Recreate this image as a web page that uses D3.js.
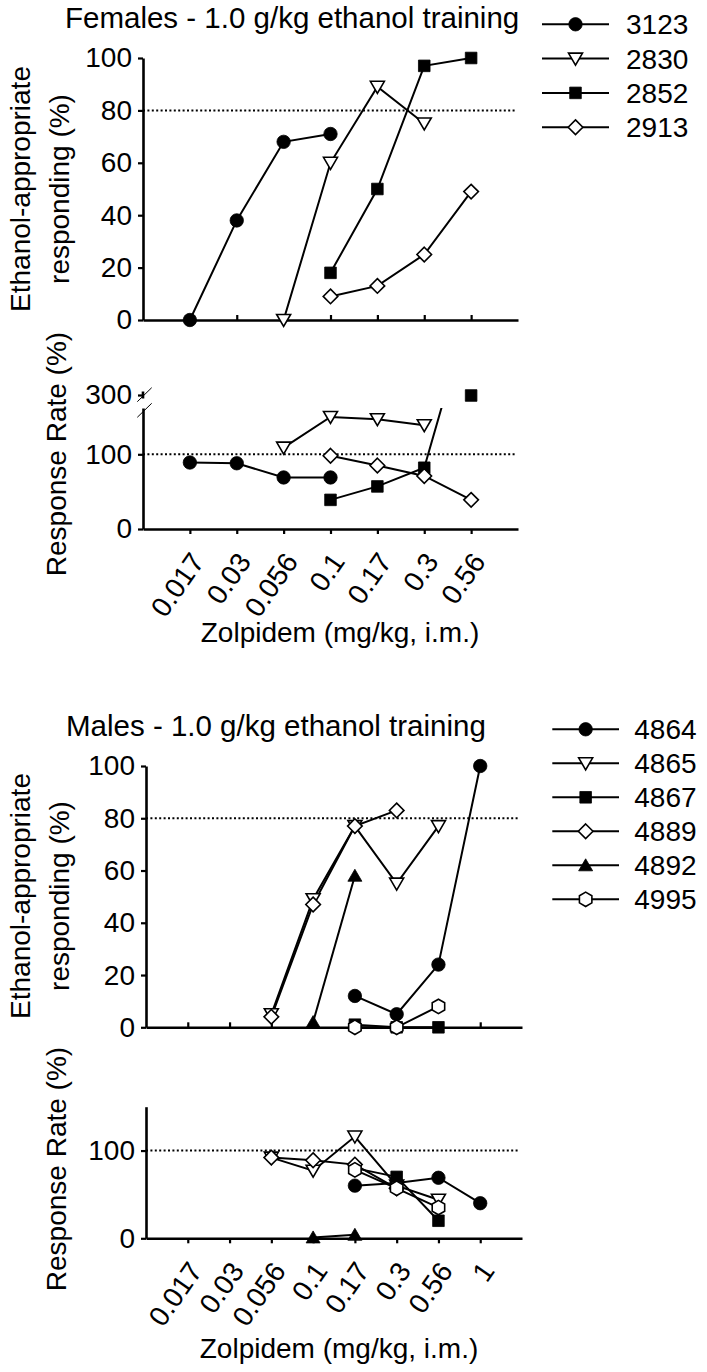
<!DOCTYPE html>
<html><head><meta charset="utf-8">
<script src="https://cdn.jsdelivr.net/npm/d3@7"></script>
<style>
body{margin:0;background:#fff}
svg{display:block}
text{font-family:"Liberation Sans",Arial,Helvetica,sans-serif;fill:#000}
</style>
</head><body>
<svg id="c" width="707" height="1372"></svg>
<script>
// ---------------- DATA ----------------
const femaleDoses = ["0.017","0.03","0.056","0.1","0.17","0.3","0.56"];
const maleDoses   = ["0.017","0.03","0.056","0.1","0.17","0.3","0.56","1"];

const femaleIds    = ["3123","2830","2852","2913"];
const femaleShapes = ["circle","triDown","square","diamond"];
const maleIds      = ["4864","4865","4867","4889","4892","4995"];
const maleShapes   = ["circle","triDown","square","diamond","triUp","hexagon"];

// Females: ethanol-appropriate responding (%)
const fEth3123 = [0, 38, 68, 71, null, null, null];
const fEth2830 = [null, null, 0, 60, 89, 75, null];
const fEth2852 = [null, null, null, 18, 50, 97, 100];
const fEth2913 = [null, null, null, 9, 13, 25, 49];
// Females: response rate (% of control)
const fRate3123 = [89, 88, 69, 69, null, null, null];
const fRate2830 = [null, null, 109, 150, 147, 139, null];
const fRate2852 = [null, null, null, 39, 57, 82, 300];
const fRate2913 = [null, null, null, 98, 85, 71, 39];

// Males: ethanol-appropriate responding (%)
const mEth4864 = [null, null, null, null, 12, 5, 24, 100];
const mEth4865 = [null, null, 5, 49, 77, 55, 77, null];
const mEth4867 = [null, null, null, null, 1, 0, 0, null];
const mEth4889 = [null, null, 4, 47, 77, 83, null, null];
const mEth4892 = [null, null, null, 2, 58, null, null, null];
const mEth4995 = [null, null, null, null, 0, 0, 8, null];
// Males: response rate (% of control)
const mRate4864 = [null, null, null, null, 60, 63, 69, 40];
const mRate4865 = [null, null, 92, 77, 116, 60, 44, null];
const mRate4867 = [null, null, null, null, 80, 70, 20, null];
const mRate4889 = [null, null, 92, 89, 84, 57, null, null];
const mRate4892 = [null, null, null, 1, 4, null, null, null];
const mRate4995 = [null, null, null, null, 78, 57, 35, null];

const ethTicks   = [0, 20, 40, 60, 80, 100];
const fRateTicks = [0, 100];
const fRateBreakTick = 300;
const mRateTicks = [0, 100];
const ethCriterion = 80;
const rateControl  = 100;

const femaleTitle = "Females - 1.0 g/kg ethanol training";
const maleTitle   = "Males - 1.0 g/kg ethanol training";
const ethLabel    = ["Ethanol-appropriate", "responding (%)"];
const rateLabel   = "Response Rate (%)";
const xLabel      = "Zolpidem (mg/kg, i.m.)";

// ---------------- DRAWING ----------------
const svg = d3.select("#c");
const FS = 28;
const FONT = '"Liberation Sans",Arial,Helvetica,sans-serif';

function shapePath(type){
  switch(type){
    case "circle":  return d3.symbol(d3.symbolCircle, Math.PI*6.7*6.7)();
    case "square":  return "M-5.8,-5.8H5.8V5.8H-5.8Z";
    case "triDown": return "M-7,-5.5L7,-5.5L0,6.5Z";
    case "triUp":   return "M-7,5.5L7,5.5L0,-6.5Z";
    case "diamond": return "M0,-7.3L7.3,0L0,7.3L-7.3,0Z";
    case "hexagon": {
      const r = 7.2, pts = d3.range(6).map(k => {
        const a = -Math.PI/2 + k*Math.PI/3; return [r*Math.cos(a), r*Math.sin(a)];
      });
      return "M" + pts.map(p => p.join(",")).join("L") + "Z";
    }
  }
}
const filled = t => t === "circle" || t === "square" || t === "triUp";

function drawMarker(g, type, x, y){
  g.append("path").attr("d", shapePath(type))
    .attr("transform", `translate(${x},${y})`)
    .attr("fill", filled(type) ? "#000" : "#fff")
    .attr("stroke", "#000").attr("stroke-width", filled(type) ? 0.8 : 1.6);
}

function styleAxis(g){
  g.attr("font-family", FONT).attr("font-size", FS);
  g.selectAll(".domain").attr("stroke", "#000").attr("stroke-width", 2.6);
  g.selectAll(".tick line").attr("stroke", "#000").attr("stroke-width", 2.2);
  g.selectAll(".tick text").attr("fill", "#000");
}

function panel(o){
  const g = svg.append("g");
  const x = d3.scalePoint().domain(o.doses).range(o.xRange).padding(1);
  const y = d3.scaleLinear().domain(o.yDomain).range(o.yRange);
  const yMark = o.yMark || y;
  const x0 = o.xRange[0], x1 = o.xRange[1];

  g.append("line").attr("x1", x0).attr("x2", x1 - 2)
    .attr("y1", y(o.refValue)).attr("y2", y(o.refValue))
    .attr("stroke", "#000").attr("stroke-width", 2).attr("stroke-dasharray", "2,2.4");

  const ya = g.append("g").attr("transform", `translate(${x0},0)`)
    .call(d3.axisLeft(y).tickValues(o.yTicks).tickSize(5).tickPadding(6).tickSizeOuter(0));
  styleAxis(ya);
  const xa = g.append("g").attr("transform", `translate(0,${o.yRange[0]})`)
    .call(d3.axisBottom(x).tickSize(o.xLabels ? 5 : -5).tickSizeOuter(0)
      .tickFormat(o.xLabels ? (d => d) : () => ""));
  styleAxis(xa);
  if (o.xLabels){
    xa.selectAll(".tick text")
      .attr("x", 0).attr("y", 0).attr("dy", "0.35em")
      .attr("text-anchor", "end")
      .attr("transform", "translate(7,27) rotate(-55)");
  }

  const lineG = g.append("g");
  if (o.clipTop != null){
    const id = "clip" + Math.round(o.clipTop);
    svg.append("clipPath").attr("id", id).append("rect")
      .attr("x", 0).attr("y", o.clipTop).attr("width", 707).attr("height", 1372 - o.clipTop);
    lineG.attr("clip-path", `url(#${id})`);
  }
  const line = d3.line().defined(d => d.v != null).x(d => x(d.dose)).y(d => y(d.v));
  o.series.forEach(s => {
    const pts = o.doses.map((dose, i) => ({dose, v: s.values[i]}));
    lineG.append("path").attr("d", line(pts)).attr("fill", "none")
      .attr("stroke", "#000").attr("stroke-width", 2);
  });
  o.series.forEach(s => {
    o.doses.forEach((dose, i) => {
      const v = s.values[i];
      if (v != null) drawMarker(g, s.shape, x(dose), yMark(v));
    });
  });
  return {g, x, y};
}

function legend(ids, shapes, x0, x1, tx, y0, dy){
  const g = svg.append("g");
  ids.forEach((id, i) => {
    const yy = y0 + i*dy;
    g.append("line").attr("x1", x0).attr("x2", x1).attr("y1", yy).attr("y2", yy)
      .attr("stroke", "#000").attr("stroke-width", 2);
    drawMarker(g, shapes[i], (x0 + x1)/2, yy);
    g.append("text").attr("x", tx).attr("y", yy).attr("dy", "0.36em")
      .attr("font-size", FS).text(id);
  });
}

function yLabel2(lines, cx, cy){
  const t = svg.append("text").attr("transform", `translate(${cx},${cy}) rotate(-90)`)
    .attr("text-anchor", "middle").attr("font-size", FS);
  lines.forEach((l, i) => t.append("tspan").attr("x", 0).attr("y", i*39).text(l));
}

// ---------- Females ----------
svg.append("text").attr("x", 65).attr("y", 28).attr("font-size", 29.5).text(femaleTitle);

panel({
  doses: femaleDoses, xRange: [143, 518], yDomain: [0, 100], yRange: [320, 58],
  yTicks: ethTicks, refValue: ethCriterion, xLabels: false,
  series: femaleIds.map((id, i) => ({shape: femaleShapes[i], values: [fEth3123, fEth2830, fEth2852, fEth2913][i]}))
});

const fRateY = d3.scaleLinear().domain([0, 162]).range([529, 408]);
const fRateBreakY = 395.5;
panel({
  doses: femaleDoses, xRange: [143, 518], yDomain: [0, 162], yRange: [529, 408],
  yTicks: fRateTicks, refValue: rateControl, xLabels: true, clipTop: 408,
  yMark: v => v > 200 ? fRateBreakY : fRateY(v),
  series: femaleIds.map((id, i) => ({shape: femaleShapes[i], values: [fRate3123, fRate2830, fRate2852, fRate2913][i]}))
});
{
  const g = svg.append("g");
  g.append("line").attr("x1", 143).attr("x2", 143).attr("y1", fRateBreakY - 4).attr("y2", fRateBreakY + 3)
    .attr("stroke", "#000").attr("stroke-width", 2.6);
  g.append("line").attr("x1", 138).attr("x2", 143).attr("y1", fRateBreakY).attr("y2", fRateBreakY)
    .attr("stroke", "#000").attr("stroke-width", 2.2);
  g.append("text").attr("x", 132).attr("y", fRateBreakY).attr("dy", "0.32em")
    .attr("text-anchor", "end").attr("font-size", FS).text(fRateBreakTick);
  [[401.7, 387.7], [417.3, 403.3]].forEach(([ya, yb]) => {
    g.append("line").attr("x1", 137.3).attr("x2", 151.7).attr("y1", ya).attr("y2", yb)
      .attr("stroke", "#000").attr("stroke-width", 1);
  });
}
legend(femaleIds, femaleShapes, 542, 609, 626, 24.3, 34.3);
yLabel2(ethLabel, 30, 189);
svg.append("text").attr("transform", "translate(66,454) rotate(-90)")
  .attr("text-anchor", "middle").attr("font-size", FS).text(rateLabel);
svg.append("text").attr("x", 340).attr("y", 642).attr("text-anchor", "middle")
  .attr("font-size", FS).text(xLabel);

// ---------- Males ----------
svg.append("text").attr("x", 66).attr("y", 736).attr("font-size", 29.5).text(maleTitle);

panel({
  doses: maleDoses, xRange: [146, 522], yDomain: [0, 100], yRange: [1027.3, 766],
  yTicks: ethTicks, refValue: ethCriterion, xLabels: false,
  series: maleIds.map((id, i) => ({shape: maleShapes[i], values: [mEth4864, mEth4865, mEth4867, mEth4889, mEth4892, mEth4995][i]}))
});
panel({
  doses: maleDoses, xRange: [146, 522], yDomain: [0, 150], yRange: [1238.3, 1106.7],
  yTicks: mRateTicks, refValue: rateControl, xLabels: true,
  series: maleIds.map((id, i) => ({shape: maleShapes[i], values: [mRate4864, mRate4865, mRate4867, mRate4889, mRate4892, mRate4995][i]}))
});
legend(maleIds, maleShapes, 552.3, 619, 634.3, 729.3, 34);
yLabel2(ethLabel, 30, 896);
svg.append("text").attr("transform", "translate(66,1169) rotate(-90)")
  .attr("text-anchor", "middle").attr("font-size", FS).text(rateLabel);
svg.append("text").attr("x", 339).attr("y", 1358).attr("text-anchor", "middle")
  .attr("font-size", FS).text(xLabel);
</script>
</body></html>
